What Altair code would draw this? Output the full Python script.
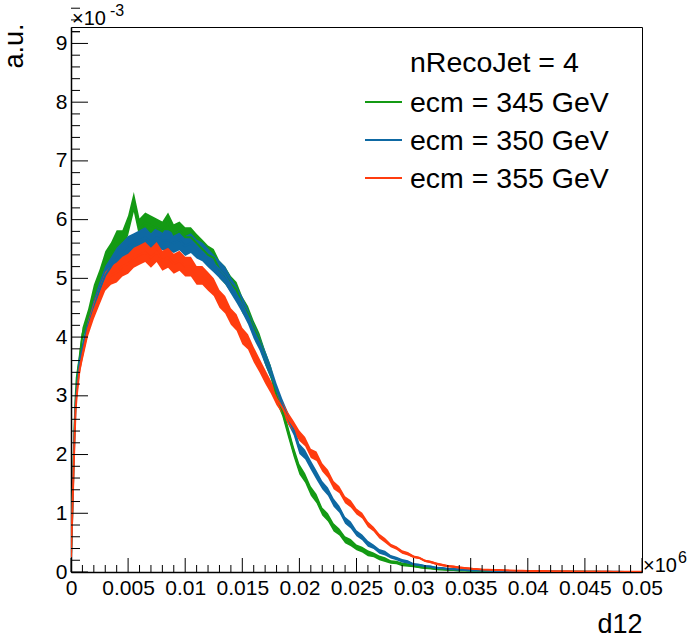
import altair as alt
import pandas as pd

# ---- data (y in units of 1e-3, x in units of 1e6) ----
x_vals = [0.0, 0.0001, 0.0002, 0.0003, 0.0004, 0.0005, 0.00075, 0.001,
          0.0015, 0.002, 0.0025, 0.003, 0.0035, 0.004, 0.0045, 0.005,
          0.0055, 0.006, 0.0065, 0.007, 0.0075, 0.008, 0.0085, 0.009, 0.0095, 0.01,
          0.0105, 0.011, 0.0115, 0.012, 0.0125, 0.013, 0.0135, 0.014, 0.0145, 0.015,
          0.0155, 0.016, 0.0165, 0.017, 0.0175, 0.018, 0.0185, 0.019, 0.0195, 0.02,
          0.0205, 0.021, 0.0215, 0.022, 0.0225, 0.023, 0.0235, 0.024, 0.0245, 0.025,
          0.0255, 0.026, 0.0265, 0.027, 0.0275, 0.028, 0.0285, 0.029, 0.0295, 0.03,
          0.0305, 0.031, 0.0315, 0.032, 0.0325, 0.033, 0.0335, 0.034, 0.0345, 0.035,
          0.0355, 0.036, 0.0365, 0.037, 0.0375, 0.038, 0.0385, 0.039, 0.0395, 0.04,
          0.0405, 0.041, 0.0415, 0.042, 0.0425, 0.043, 0.0435, 0.044, 0.0445, 0.045,
          0.0455, 0.046, 0.0465, 0.047, 0.0475, 0.048, 0.0485, 0.049, 0.0495, 0.05]

ecm345 = [0.3, 0.95, 1.7, 2.4, 2.95, 3.3, 3.65, 4.05,
          4.35, 4.75, 5.0, 5.3, 5.45, 5.65, 5.65, 5.9,
          6.3, 5.85, 5.95, 5.9, 5.85, 5.8, 5.95, 5.75, 5.8, 5.7,
          5.7, 5.6, 5.5, 5.4, 5.35, 5.15, 5.05, 4.9, 4.8, 4.55,
          4.4, 4.15, 3.95, 3.65, 3.4, 3.0, 2.75, 2.4, 2.05, 1.75,
          1.6, 1.38, 1.25, 1.03, 0.93, 0.76, 0.68, 0.55, 0.5, 0.42,
          0.38, 0.32, 0.29, 0.24, 0.21, 0.17, 0.16, 0.13, 0.12, 0.1,
          0.085, 0.07, 0.065, 0.05, 0.045, 0.04, 0.035, 0.03, 0.028, 0.024,
          0.02, 0.018, 0.016, 0.014, 0.012, 0.011, 0.01, 0.009, 0.008, 0.008,
          0.007, 0.006, 0.006, 0.005, 0.005, 0.004, 0.004, 0.004, 0.003, 0.003,
          0.003, 0.003, 0.002, 0.002, 0.002, 0.002, 0.002, 0.002, 0.002, 0.002]

ecm350 = [0.3, 0.9, 1.65, 2.3, 2.85, 3.1, 3.6, 3.8,
          4.2, 4.5, 4.8, 5.05, 5.2, 5.35, 5.45, 5.55,
          5.6, 5.65, 5.7, 5.6, 5.7, 5.65, 5.65, 5.6, 5.65, 5.55,
          5.6, 5.5, 5.45, 5.35, 5.25, 5.15, 5.05, 4.88, 4.72, 4.55,
          4.35, 4.1, 3.9, 3.65, 3.4, 3.1, 2.85, 2.62, 2.42, 2.1,
          2.0, 1.82, 1.65, 1.48, 1.37, 1.18, 1.07, 0.88, 0.8, 0.66,
          0.59, 0.48, 0.43, 0.35, 0.32, 0.26, 0.23, 0.19, 0.17, 0.13,
          0.12, 0.1, 0.09, 0.07, 0.065, 0.05, 0.047, 0.04, 0.036, 0.03,
          0.027, 0.024, 0.021, 0.019, 0.017, 0.015, 0.014, 0.013, 0.012, 0.011,
          0.010, 0.009, 0.008, 0.008, 0.007, 0.006, 0.006, 0.005, 0.005, 0.004,
          0.004, 0.004, 0.003, 0.003, 0.003, 0.003, 0.002, 0.002, 0.002, 0.002]

ecm355 = [0.25, 0.9, 1.55, 2.2, 2.75, 3.0, 3.45, 3.7,
          4.15, 4.45, 4.7, 4.95, 5.05, 5.1, 5.2, 5.25,
          5.35, 5.4, 5.45, 5.35, 5.45, 5.3, 5.35, 5.25, 5.3, 5.2,
          5.2, 5.05, 5.05, 4.95, 4.85, 4.65, 4.55, 4.35, 4.25, 4.02,
          3.92, 3.7, 3.52, 3.33, 3.15, 2.95, 2.8, 2.62, 2.48, 2.32,
          2.22, 2.02, 1.97, 1.78, 1.67, 1.48, 1.4, 1.23, 1.16, 1.03,
          0.96, 0.81, 0.73, 0.61, 0.54, 0.45, 0.41, 0.34, 0.31, 0.26,
          0.24, 0.19, 0.17, 0.14, 0.12, 0.1, 0.09, 0.075, 0.065, 0.055,
          0.05, 0.043, 0.04, 0.035, 0.032, 0.028, 0.026, 0.023, 0.021, 0.019,
          0.018, 0.016, 0.015, 0.014, 0.013, 0.012, 0.011, 0.010, 0.010, 0.009,
          0.008, 0.008, 0.007, 0.007, 0.006, 0.006, 0.006, 0.005, 0.005, 0.005]

# half-width of the statistical-fluctuation band seen around each curve
noise = [0.02, 0.03, 0.04, 0.05, 0.06, 0.08, 0.1, 0.11,
         0.13, 0.14, 0.15, 0.16, 0.16, 0.17, 0.17, 0.17,
         0.17, 0.17, 0.17, 0.17, 0.17, 0.17, 0.17, 0.17, 0.17, 0.17,
         0.17, 0.16, 0.16, 0.16, 0.15, 0.15, 0.15, 0.14, 0.14, 0.14,
         0.13, 0.13, 0.12, 0.12, 0.11, 0.11, 0.1, 0.1, 0.09, 0.09,
         0.08, 0.08, 0.08, 0.07, 0.07, 0.07, 0.06, 0.06, 0.06, 0.05,
         0.05, 0.05, 0.04, 0.04, 0.04, 0.03, 0.03, 0.03, 0.03, 0.02,
         0.02, 0.02, 0.02, 0.02, 0.02, 0.02, 0.02, 0.02, 0.02, 0.02,
         0.01, 0.01, 0.01, 0.01, 0.01, 0.01, 0.01, 0.01, 0.01, 0.01,
         0.01, 0.01, 0.01, 0.01, 0.01, 0.01, 0.01, 0.01, 0.01, 0.01,
         0.01, 0.01, 0.01, 0.01, 0.01, 0.01, 0.01, 0.01, 0.01, 0.01]

series_names = ["ecm = 345 GeV", "ecm = 350 GeV", "ecm = 355 GeV"]
series_colors = ["#149a14", "#0e69a3", "#ff3c0f"]
legend_header = "nRecoJet = 4"

x_major = [0, 0.005, 0.01, 0.015, 0.02, 0.025, 0.03, 0.035, 0.04, 0.045, 0.05]
y_major = [0, 1, 2, 3, 4, 5, 6, 7, 8, 9]
x_minor = [round(a + k * 0.001, 4) for a in x_major[:-1] for k in range(1, 5)]
y_minor = [round(a + k * 0.2, 2) for a in y_major for k in range(1, 5)] + [9.2]

assert len(x_vals) == len(ecm345) == len(ecm350) == len(ecm355) == len(noise)

rows = []
for name, vals in zip(series_names, [ecm345, ecm350, ecm355]):
    for xv, yv, nv in zip(x_vals, vals, noise):
        rows.append({"x": xv, "y": yv, "lo": max(0.0, yv - nv), "hi": yv + nv, "series": name})
df = pd.DataFrame(rows)

W, H = 571, 545
FONT = "Liberation Sans"
xs = alt.Scale(domain=[0, 0.05], nice=False, zero=False)
ys = alt.Scale(domain=[0, 9.28], nice=False, zero=False)
cs = alt.Scale(domain=series_names, range=series_colors)

x_axis = alt.Axis(
    values=x_major, labelExpr="format(datum.value, '~g')", ticks=False, grid=False,
    domainColor="black", domainWidth=1.5, labelFontSize=21, labelFont=FONT,
    labelColor="black", labelPadding=5, labelFlush=False, labelOverlap=False,
    labelBound=False, title="d12", titleFontSize=27, titleFont=FONT,
    titleFontWeight="normal", titleColor="black", titleAnchor="end", titleAlign="right",
    titleBaseline="alphabetic", titleX=W, titleY=60)
y_axis = alt.Axis(
    values=y_major, labelExpr="format(datum.value, '~g')", ticks=False, grid=False,
    domainColor="black", domainWidth=1.5, labelFontSize=21, labelFont=FONT,
    labelColor="black", labelPadding=4, labelFlush=False, labelOverlap=False,
    labelBound=False, title="a.u.", titleFontSize=27, titleFont=FONT,
    titleFontWeight="normal", titleColor="black", titleAngle=270, titleAlign="right",
    titleBaseline="alphabetic", titleX=-49, titleY=-4)

# fluctuation bands, one per series (constant colour)
bands = []
for i, (name, col) in enumerate(zip(series_names, series_colors)):
    enc = dict(x=alt.X("x:Q", scale=xs), y=alt.Y("lo:Q", scale=ys), y2="hi:Q")
    if i == 0:
        enc["x"] = alt.X("x:Q", scale=xs, axis=x_axis)
        enc["y"] = alt.Y("lo:Q", scale=ys, axis=y_axis)
    bands.append(
        alt.Chart(df).transform_filter(alt.datum.series == name)
        .mark_area(clip=True, opacity=1, color=col, interpolate="linear")
        .encode(**enc)
    )

lines = alt.Chart(df).mark_line(strokeWidth=2, clip=True).encode(
    x=alt.X("x:Q", scale=xs),
    y=alt.Y("y:Q", scale=ys),
    color=alt.Color("series:N", scale=cs, legend=None),
)

xmaj = alt.Chart(pd.DataFrame({"x": x_major})).mark_rule(color="black", strokeWidth=1).encode(
    x=alt.X("x:Q", scale=xs), y=alt.value(H), y2=alt.value(H - 14))
xmin = alt.Chart(pd.DataFrame({"x": x_minor})).mark_rule(color="black", strokeWidth=1).encode(
    x=alt.X("x:Q", scale=xs), y=alt.value(H), y2=alt.value(H - 7))
ymaj = alt.Chart(pd.DataFrame({"y": y_major})).mark_rule(color="black", strokeWidth=1).encode(
    y=alt.Y("y:Q", scale=ys), x=alt.value(0), x2=alt.value(17))
ymin = alt.Chart(pd.DataFrame({"y": y_minor})).mark_rule(color="black", strokeWidth=1).encode(
    y=alt.Y("y:Q", scale=ys), x=alt.value(0), x2=alt.value(9))

def label(text, x, y, size, align="left"):
    return alt.Chart(pd.DataFrame({"t": [text]})).mark_text(
        font=FONT, fontSize=size, align=align, baseline="alphabetic", color="black"
    ).encode(x=alt.value(x), y=alt.value(y), text="t:N")

# legend (ROOT-style, borderless): header + one line sample and label per series
legend_layers = [label(legend_header, 339, 45, 28.5)]
for i, (name, col) in enumerate(zip(series_names, series_colors)):
    legend_layers.append(
        alt.Chart(pd.DataFrame({"s": [name]})).mark_rule(color=col, strokeWidth=2).encode(
            x=alt.value(294), x2=alt.value(331), y=alt.value(75 + 38 * i))
    )
    legend_layers.append(label(name, 339, 85 + 38 * i, 28.5))

ex1 = label("×10", 1, -2, 20)
ex1s = label("-3", 39, -11, 16)
ex2 = label("×10", 572, H, 20)
ex2s = label("6", 607, H - 9, 16)

chart = alt.layer(*bands, lines, xmaj, xmin, ymaj, ymin, *legend_layers,
                  ex1, ex1s, ex2, ex2s).properties(
    width=W, height=H,
    autosize=alt.AutoSizeParams(type="none"),
    padding={"left": 71, "top": 27, "right": 56, "bottom": 68},
    background="white",
).configure_view(stroke="black", strokeWidth=1)

chart.save("out.html", embed_options={"renderer": "svg", "actions": False})
